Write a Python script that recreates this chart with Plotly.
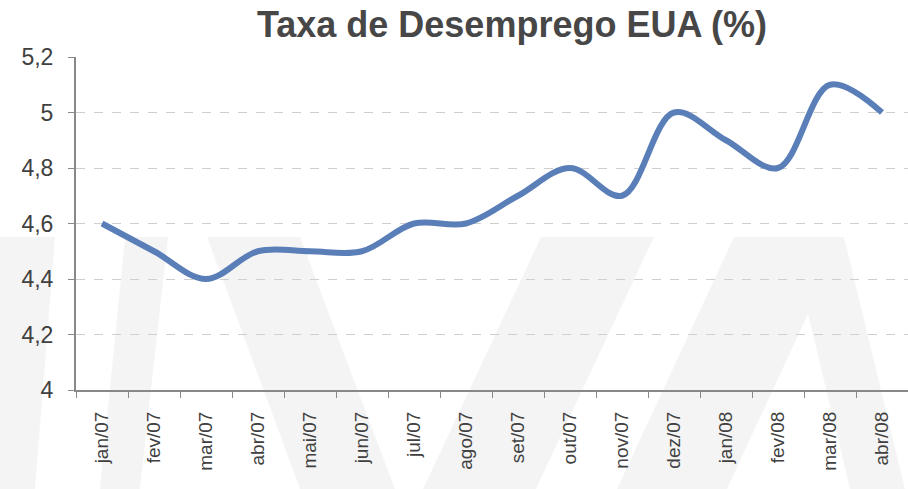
import plotly.graph_objects as go

meses = ["jan/07", "fev/07", "mar/07", "abr/07", "mai/07", "jun/07", "jul/07", "ago/07",
         "set/07", "out/07", "nov/07", "dez/07", "jan/08", "fev/08", "mar/08", "abr/08"]
taxa = [4.6, 4.5, 4.4, 4.5, 4.5, 4.5, 4.6, 4.6, 4.7, 4.8, 4.7, 5.0, 4.9, 4.8, 5.1, 5.0]
y_ticks = [4.0, 4.2, 4.4, 4.6, 4.8, 5.0, 5.2]
y_labels = ["4", "4,2", "4,4", "4,6", "4,8", "5", "5,2"]

W, H = 908, 489
ML, MT, MB = 76, 57, 99
PW, PH = W - ML, H - MT - MB

# faint background watermark (decorative polygons, screen pixels)
watermark = [
    [(0, 237), (55, 237), (35, 489), (0, 489)],
    [(125, 237), (168, 237), (140, 489), (100, 489)],
    [(207, 237), (300, 237), (395, 489), (300, 489)],
    [(541, 237), (654, 237), (536, 489), (423, 489)],
    [(734, 237), (844, 237), (905, 489), (850, 489), (808, 314), (727, 489), (617, 489)],
]

fig = go.Figure()
fig.add_trace(go.Scatter(
    x=meses, y=taxa, mode="lines",
    line=dict(color="#5A7FB8", width=6, shape="spline", smoothing=1.0),
    showlegend=False, hoverinfo="skip",
))

shapes = []
for poly in watermark:
    pts = []
    for px, py in poly:
        fx = (px - ML) / PW
        fy = (H - MB - py) / PH
        pts.append(f"{fx:.4f},{fy:.4f}")
    path = "M " + " L ".join(pts) + " Z"
    shapes.append(dict(type="path", xref="paper", yref="paper", path=path,
                       fillcolor="rgba(0,0,0,0.045)", line=dict(width=0), layer="below"))

fig.update_layout(
    width=W, height=H,
    margin=dict(l=ML, r=0, t=MT, b=MB),
    paper_bgcolor="white", plot_bgcolor="rgba(0,0,0,0)",
    separators=", ",
    shapes=shapes,
    title=dict(text="<b>Taxa de Desemprego EUA (%)</b>", x=512 / W, xanchor="center",
               y=1 - 12 / H, yanchor="top", pad=dict(t=0, b=0),
               font=dict(family="Liberation Sans, Arial", size=36, color="#474747")),
    font=dict(family="Liberation Sans, Arial", color="#404040"),
)
fig.update_xaxes(
    type="category", tickangle=-90, tickson="boundaries",
    ticks="outside", ticklen=6, tickcolor="#888888",
    showline=True, linecolor="#888888", linewidth=2,
    showgrid=False, tickfont=dict(size=19, color="#404040"),
    range=[-0.5, 15.5], automargin=False, ticklabelstandoff=12,
)
fig.update_yaxes(
    range=[4.0, 5.2], tickvals=y_ticks, ticktext=y_labels,
    ticks="outside", ticklen=6, tickcolor="#888888",
    showline=True, linecolor="#888888", linewidth=2,
    showgrid=True, gridcolor="#cfcfcf", griddash="dash", gridwidth=1,
    zeroline=False, tickfont=dict(size=23, color="#404040"),
    ticklabelstandoff=10, automargin=False,
)
fig.write_html("out.html", config={"displayModeBar": False},
               post_script="document.body.style.margin='0';")
